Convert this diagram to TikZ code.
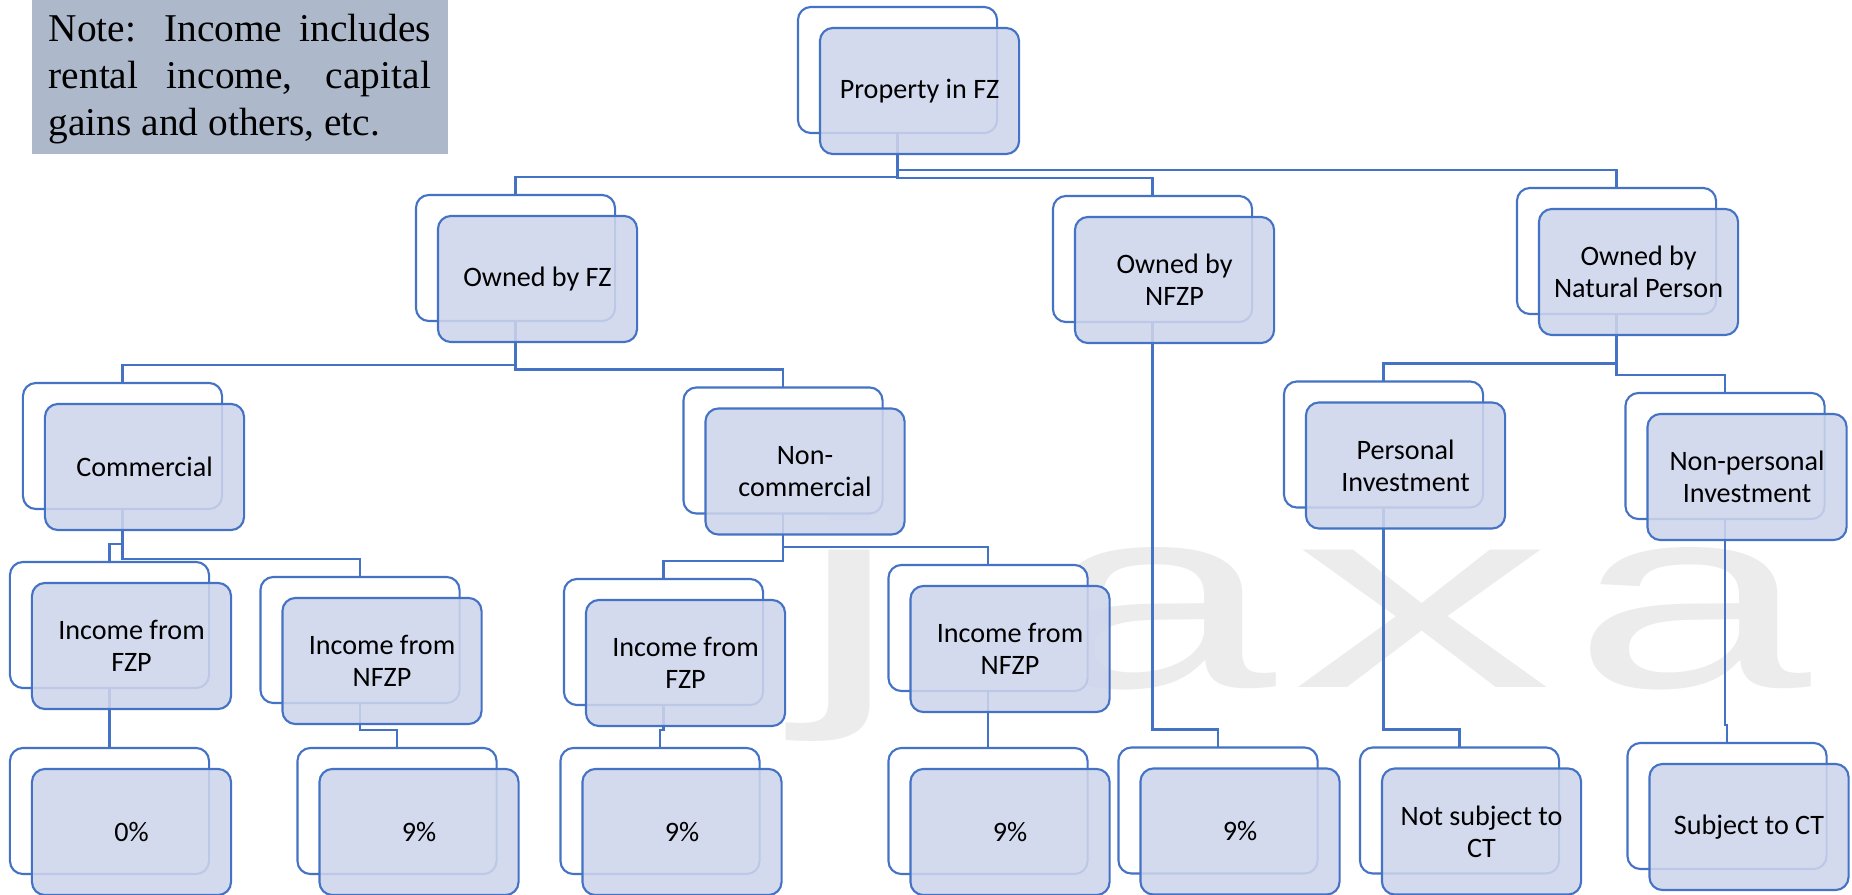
\documentclass[tikz,border=0pt]{standalone}
\usepackage{fontspec}
\usepackage{graphicx}
\setmainfont{Liberation Serif}
\newfontfamily\boxfont{Carlito}
\newfontfamily\markfont{Liberation Sans}

\begin{document}
\begin{tikzpicture}[x=0.01cm, y=-0.01cm,
  backbox/.style={draw=lineblue, line width=0.6pt, fill=white, rounded corners=0.13cm, minimum width=1.99cm, minimum height=1.26cm, inner sep=0pt, outer sep=0pt},
  frontbox/.style={draw=lineblue, line width=0.6pt, fill=frontblue, fill opacity=0.88, text opacity=1, rounded corners=0.13cm, minimum width=1.99cm, minimum height=1.26cm, inner sep=0pt, align=center, font=\boxfont\fontsize{8}{9.1}\selectfont},
  conn/.style={draw=lineblue, line width=0.6pt},
  notetext/.style={anchor=north west, inner sep=0pt, text width=3.82cm, align=justify, font=\fontsize{11.2}{13.37}\selectfont},
  wmletter/.style={text=markgray, anchor=base, inner sep=0pt, font=\markfont\fontsize{74}{74}\selectfont}]

\definecolor{lineblue}{RGB}{68, 114, 196}
\definecolor{frontblue}{RGB}{206, 213, 236}
\definecolor{notegray}{RGB}{173, 185, 202}
\definecolor{markgray}{RGB}{236, 236, 236}

\useasboundingbox (0,0) rectangle (1852,894);

% Watermark
\node[wmletter] (wmj) at (850,687) {\scalebox{1.8}[1]{j}};
\node[wmletter] (wma) at (1157,687) {\scalebox{1.65}[1]{a}};
\node[wmletter] (wmx) at (1423,687) {\scalebox{2}[1]{x}};
\node[wmletter] (wmb) at (1692,687) {\scalebox{1.65}[1]{a}};

% Note
\fill[notegray] (32,0) rectangle (448,154);
\node[notetext] (note) at (48,13) {\noindent\hyphenpenalty=10000 Note: Income includes rental income, capital gains and others, etc.};

% Back boxes
\node[backbox] (property) at (897.5,70) {};
\node[backbox] (ownfz) at (515.5,258) {};
\node[backbox] (ownnfzp) at (1152.5,259) {};
\node[backbox] (ownnp) at (1616.5,251) {};
\node[backbox] (comm) at (122.5,446) {};
\node[backbox] (noncomm) at (783,450.5) {};
\node[backbox] (personal) at (1383.5,444.5) {};
\node[backbox] (nonpersonal) at (1725,456) {};
\node[backbox] (incfzpa) at (109.5,625) {};
\node[backbox] (incnfzpa) at (360,640) {};
\node[backbox] (incfzpb) at (663.5,642) {};
\node[backbox] (incnfzpb) at (988,628) {};
\node[backbox] (zero) at (109.5,811) {};
\node[backbox] (ninea) at (397,811) {};
\node[backbox] (nineb) at (660,811) {};
\node[backbox] (ninec) at (988,811) {};
\node[backbox] (nined) at (1218,810.5) {};
\node[backbox] (notct) at (1459.5,810.5) {};
\node[backbox] (ct) at (1727,806) {};

% Connectors
\draw[conn] (property.south) |- ([yshift=.18cm]ownfz.north) -- (ownfz.north);
\draw[conn] (property.south) |- ([yshift=.18cm]ownnfzp.north) -- (ownnfzp.north);
\draw[conn] (property.south) |- ([yshift=.18cm]ownnp.north) -- (ownnp.north);
\draw[conn] (ownfz.south) |- ([yshift=.18cm]comm.north) -- (comm.north);
\draw[conn] (ownfz.south) |- ([yshift=.18cm]noncomm.north) -- (noncomm.north);
\draw[conn] (ownnfzp.south) |- ([yshift=.18cm]nined.north) -- (nined.north);
\draw[conn] (ownnp.south) |- ([yshift=.18cm]personal.north) -- (personal.north);
\draw[conn] (ownnp.south) |- ([yshift=.18cm]nonpersonal.north) -- (nonpersonal.north);
\draw[conn] (comm.south) |- ([yshift=.18cm]incfzpa.north) -- (incfzpa.north);
\draw[conn] (comm.south) |- ([yshift=.18cm]incnfzpa.north) -- (incnfzpa.north);
\draw[conn] (noncomm.south) |- ([yshift=.18cm]incfzpb.north) -- (incfzpb.north);
\draw[conn] (noncomm.south) |- ([yshift=.18cm]incnfzpb.north) -- (incnfzpb.north);
\draw[conn] (incfzpa.south) |- ([yshift=.18cm]zero.north) -- (zero.north);
\draw[conn] (incnfzpa.south) |- ([yshift=.18cm]ninea.north) -- (ninea.north);
\draw[conn] (incfzpb.south) |- ([yshift=.18cm]nineb.north) -- (nineb.north);
\draw[conn] (incnfzpb.south) |- ([yshift=.18cm]ninec.north) -- (ninec.north);
\draw[conn] (personal.south) |- ([yshift=.18cm]notct.north) -- (notct.north);
\draw[conn] (nonpersonal.south) |- ([yshift=.18cm]ct.north) -- (ct.north);

% Front boxes
\node[frontbox] (propertyf) at ([shift={(22,21)}]property) {Property in FZ};
\node[frontbox] (ownfzf) at ([shift={(22,21)}]ownfz) {Owned by FZ};
\node[frontbox] (ownnfzpf) at ([shift={(22,21)}]ownnfzp) {Owned by\\NFZP};
\node[frontbox] (ownnpf) at ([shift={(22,21)}]ownnp) {Owned by\\Natural Person};
\node[frontbox] (commf) at ([shift={(22,21)}]comm) {Commercial};
\node[frontbox] (noncommf) at ([shift={(22,21)}]noncomm) {Non-\\commercial};
\node[frontbox] (personalf) at ([shift={(22,21)}]personal) {Personal\\Investment};
\node[frontbox] (nonpersonalf) at ([shift={(22,21)}]nonpersonal) {Non-personal\\Investment};
\node[frontbox] (incfzpaf) at ([shift={(22,21)}]incfzpa) {Income from\\FZP};
\node[frontbox] (incnfzpaf) at ([shift={(22,21)}]incnfzpa) {Income from\\NFZP};
\node[frontbox] (incfzpbf) at ([shift={(22,21)}]incfzpb) {Income from\\FZP};
\node[frontbox] (incnfzpbf) at ([shift={(22,21)}]incnfzpb) {Income from\\NFZP};
\node[frontbox] (zerof) at ([shift={(22,21)}]zero) {0\%};
\node[frontbox] (nineaf) at ([shift={(22,21)}]ninea) {9\%};
\node[frontbox] (ninebf) at ([shift={(22,21)}]nineb) {9\%};
\node[frontbox] (ninecf) at ([shift={(22,21)}]ninec) {9\%};
\node[frontbox] (ninedf) at ([shift={(22,21)}]nined) {9\%};
\node[frontbox] (notctf) at ([shift={(22,21)}]notct) {Not subject to\\CT};
\node[frontbox] (ctf) at ([shift={(22,21)}]ct) {Subject to CT};

\end{tikzpicture}
\end{document}
